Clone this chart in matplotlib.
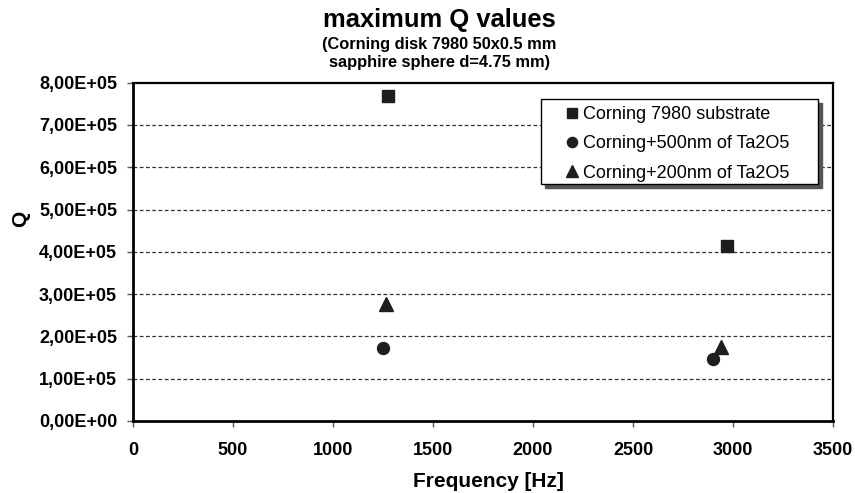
import matplotlib
matplotlib.use("Agg")
import matplotlib.pyplot as plt
from matplotlib.patches import Rectangle
from matplotlib.ticker import FuncFormatter

plt.rcParams['font.family'] = ['Liberation Sans', 'DejaVu Sans']

# data
labels = ['Corning 7980 substrate', 'Corning+500nm of Ta2O5', 'Corning+200nm of Ta2O5']
markers = ['s', 'o', '^']
freq_substrate = [1276, 2970]
q_substrate = [7.69e5, 4.14e5]
freq_500nm = [1248, 2898]
q_500nm = [1.72e5, 1.46e5]
freq_200nm = [1265, 2938]
q_200nm = [2.76e5, 1.76e5]

series = [(freq_substrate, q_substrate), (freq_500nm, q_500nm), (freq_200nm, q_200nm)]
sizes = [8, 8.6, 9.4]

W, H = 855, 493
fig = plt.figure(figsize=(W / 100, H / 100), dpi=100)
ax = fig.add_axes([133 / W, 1 - 421 / H, 700 / W, 338.3 / H])

for (xs, ys), m, lab, s in zip(series, markers, labels, sizes):
    ax.plot(xs, ys, linestyle='none', marker=m, markersize=s, color='#1e1e1e',
            markeredgecolor='#1e1e1e', label=lab, zorder=3)

ax.set_xlim(0, 3500)
ax.set_ylim(0, 8e5)
ax.set_xticks(range(0, 3501, 500))
ax.set_yticks([i * 1e5 for i in range(9)])
ax.yaxis.set_major_formatter(FuncFormatter(
    lambda v, p: ('%.2E' % v).replace('.', ',')))

for y in range(1, 8):
    ax.axhline(y * 1e5, color='#333333', linestyle=(0, (3, 2)), linewidth=0.9, zorder=1)

for sp in ax.spines.values():
    sp.set_color('black')
    sp.set_linewidth(1.6)
ax.spines['left'].set_linewidth(2.0)
ax.spines['bottom'].set_linewidth(2.0)

ax.tick_params(axis='both', direction='out', length=4, width=1, color='#555555',
               labelsize=13)
ax.tick_params(axis='x', pad=11)
ax.tick_params(axis='y', pad=7.5)
for t in ax.get_xticklabels() + ax.get_yticklabels():
    t.set_fontweight('bold')

ax.set_xlabel('Frequency [Hz]', fontsize=15, fontweight='bold')
ax.xaxis.set_label_coords((488.5 - 133) / 700, (421 - 487) / 338.3)
ax.xaxis.label.set_va('baseline')
ax.set_ylabel('Q', fontsize=15, fontweight='bold')
ax.yaxis.set_label_coords((20.5 - 133) / 700, (421 - 219) / 338.3)
ax.yaxis.label.set_va('center')

fig.text(439 / W, 1 - 20 / H, 'maximum Q values', ha='center', va='center',
         fontsize=18.4, fontweight='bold')
fig.text(439.5 / W, 1 - 44 / H, '(Corning disk 7980 50x0.5 mm', ha='center', va='center',
         fontsize=11.8, fontweight='bold')
fig.text(440 / W, 1 - 62 / H, 'sapphire sphere d=4.75 mm)', ha='center', va='center',
         fontsize=11.8, fontweight='bold')

# legend box drawn by hand (Excel-style, wide padding and a shadow)
for dx, dy, fc, ec in [(4, 4, '#555555', '#555555'), (0, 0, 'white', 'black')]:
    fig.add_artist(Rectangle(((541 + dx) / W, 1 - (184 + dy) / H), 277 / W, 85 / H,
                             transform=fig.transFigure, facecolor=fc, edgecolor=ec,
                             linewidth=1.0, zorder=4))

leg = fig.legend(*ax.get_legend_handles_labels(), loc='upper left',
                 bbox_to_anchor=(554 / W, 1 - 97 / H), bbox_transform=fig.transFigure,
                 fontsize=13, frameon=False, handlelength=1.0, handletextpad=0.1,
                 borderpad=0.5, labelspacing=0.68, markerscale=0.85, borderaxespad=0)
leg.set_zorder(5)

fig.savefig('out.png', dpi=100)
